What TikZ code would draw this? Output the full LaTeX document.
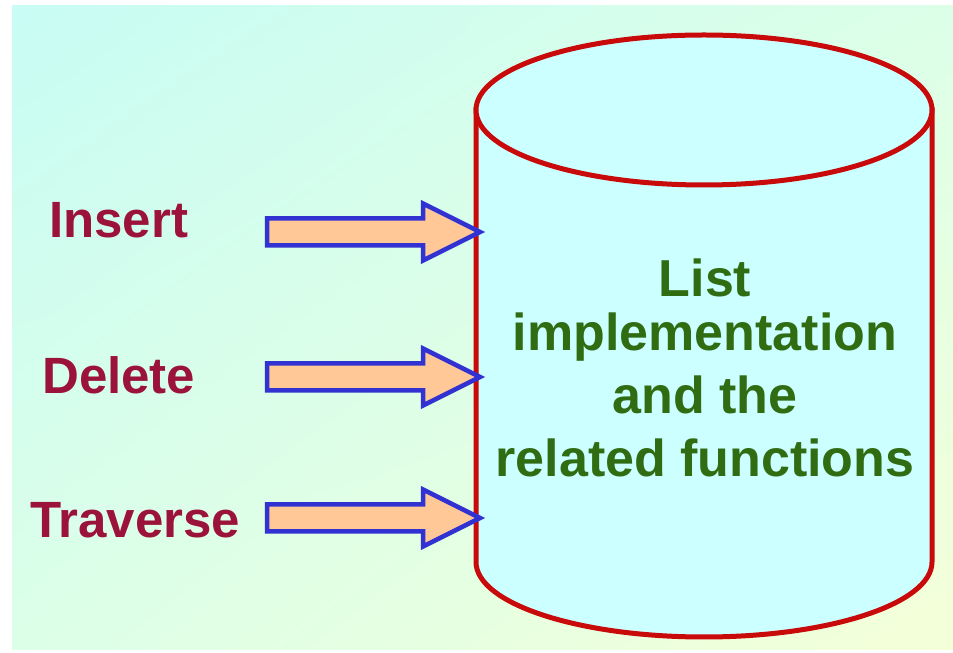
\documentclass[tikz,border=0pt]{standalone}
\usepackage{fontspec}
\setmainfont{Liberation Sans}
\usetikzlibrary{shadings}
\definecolor{bgA}{RGB}{200,252,244}
\definecolor{bgB}{RGB}{244,255,216}
\definecolor{bgC}{RGB}{220,255,232}
\definecolor{cylred}{RGB}{200,10,10}
\definecolor{cylfill}{RGB}{204,255,255}
\definecolor{lblred}{RGB}{155,18,58}
\definecolor{txtgreen}{RGB}{48,108,18}
\definecolor{arrfill}{RGB}{255,200,150}
\definecolor{arrblue}{RGB}{50,50,210}
\tikzset{
  lbl/.style={anchor=base west, inner sep=0pt, text=lblred, font=\fontsize{51}{60}\selectfont\bfseries},
  blockarrow/.style={draw=arrblue, fill=arrfill, line width=4.5pt, line join=miter},
  cyl/.style={draw=cylred, fill=cylfill, line width=5pt},
  maintxt/.style={text=txtgreen, font=\fontsize{52}{62}\selectfont\bfseries, anchor=base, inner sep=0pt},
}
\begin{document}
\begin{tikzpicture}[x=1pt,y=1pt]
\useasboundingbox (0,0) rectangle (953,653);
\fill[white] (0,0) rectangle (953,653);
\shade[upper left=bgA, upper right=bgC, lower left=bgC, lower right=bgB] (12,3) rectangle (953,647);
% cylinder
\path[cyl] (476,543) -- (476,91) arc[start angle=180, end angle=360, x radius=228, y radius=75] -- (932,543) -- cycle;
\path[cyl] (704,543) ellipse [x radius=228, y radius=75];
% labels
\node[lbl] (ins) at (49,415) {Insert};
\node[lbl] (del) at (42,259) {Delete};
\node[lbl] (trv) at (30,115) {Traverse};
% arrows
\foreach \y in {421, 276, 135}{
  \path[blockarrow] (267,\y+13.5) -- (423,\y+13.5) -- (423,\y+28.5) -- (480,\y) -- (423,\y-28.5) -- (423,\y-13.5) -- (267,\y-13.5) -- cycle;
}
% central text
\node[maintxt] (m1) at (705,356) {List};
\node[maintxt] (m2) at (705,302) {implementation};
\node[maintxt] (m3) at (705,239) {and the};
\node[maintxt] (m4) at (705,176) {related functions};
\end{tikzpicture}
\end{document}
